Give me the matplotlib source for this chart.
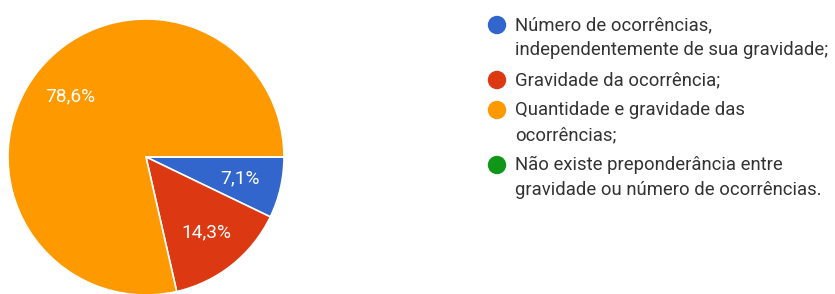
import matplotlib
matplotlib.use("Agg")
import matplotlib.pyplot as plt
from matplotlib.patches import Circle

plt.rcParams['font.family'] = ['Roboto', 'DejaVu Sans']

categories = [
    "Número de ocorrências,\nindependentemente de sua gravidade;",
    "Gravidade da ocorrência;",
    "Quantidade e gravidade das\nocorrências;",
    "Não existe preponderância entre\ngravidade ou número de ocorrências.",
]
counts = [1, 2, 11, 0]
colors = ["#3366CC", "#DC3912", "#FF9900", "#109618"]

W, H = 835, 294
fig = plt.figure(figsize=(W / 100, H / 100), dpi=100)
ax = fig.add_axes([0, 0, 1, 1])


def fmt(p):
    return "" if p < 0.05 else f"{p:.1f}%".replace(".", ",")


wedges, texts, autotexts = ax.pie(
    counts, colors=colors, startangle=0, counterclock=False,
    center=(146, H - 157), radius=138, autopct=fmt, pctdistance=0.70,
    wedgeprops=dict(edgecolor="white", linewidth=1.2),
    textprops=dict(color="white", fontsize=13.8), frame=True)
ax.set_xlim(0, W)
ax.set_ylim(0, H)
ax.set_aspect('equal')
ax.axis('off')

# legend
y_first = [25, 80, 110, 165]
line_gap = 25
for lab, col, y in zip(categories, colors, y_first):
    ax.add_patch(Circle((497, H - y), 8.5, color=col, clip_on=False))
    for i, line in enumerate(lab.split("\n")):
        ax.text(515, H - (y + i * line_gap), line, fontsize=13.3,
                color="#333333", va="center", ha="left")

fig.savefig("out.png", dpi=100)
